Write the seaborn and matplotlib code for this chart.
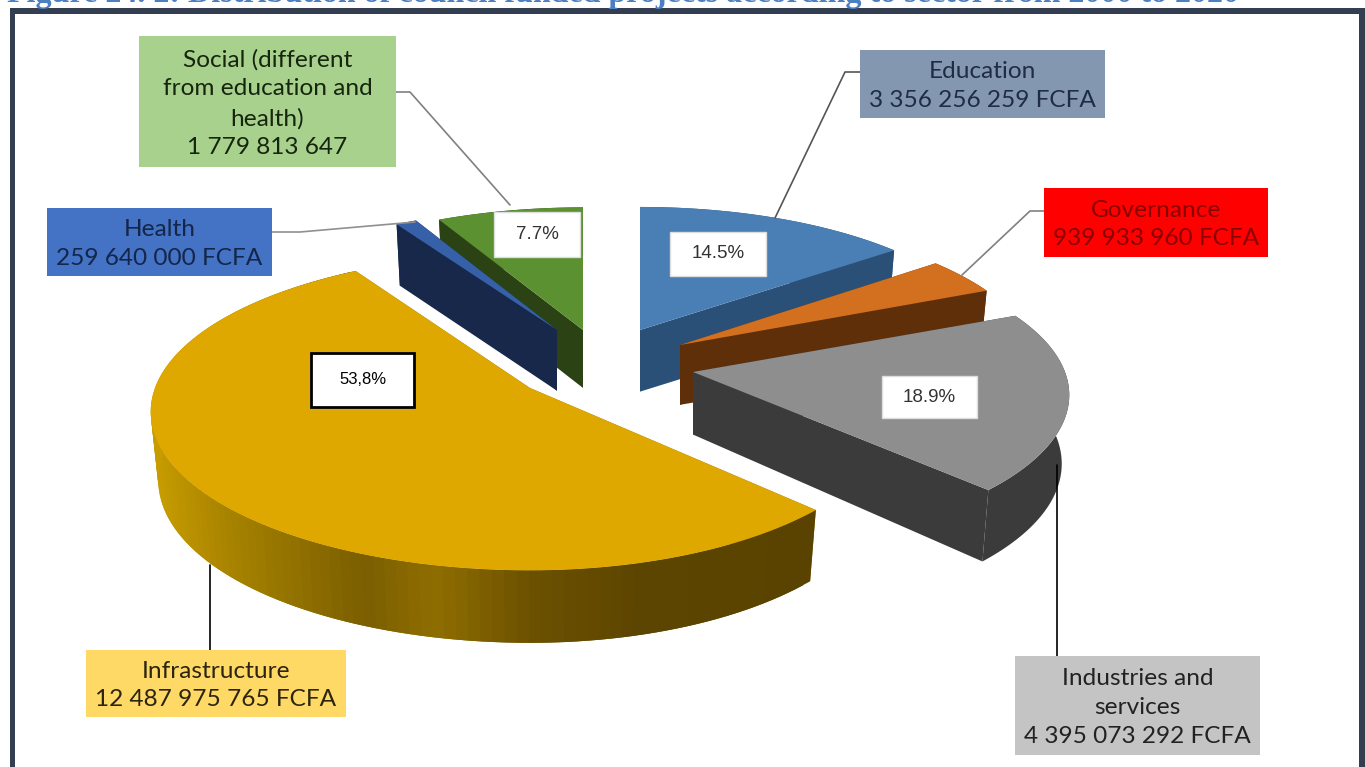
import numpy as np
import matplotlib
matplotlib.use("Agg")
import matplotlib.pyplot as plt
from matplotlib.colors import to_rgb
from matplotlib.patches import Rectangle
import seaborn as sns

# ---- data ----
sectors = ["Education", "Governance", "Industries and services", "Infrastructure", "Health", "Social"]
amounts = [3356256259, 939933960, 4395073292, 12487975765, 259640000, 1779813647]
box_labels = ["Education\n3 356 256 259 FCFA", "Governance\n939 933 960 FCFA",
              "Industries and\nservices\n4 395 073 292 FCFA", "Infrastructure\n12 487 975 765 FCFA",
              "Health\n259 640 000 FCFA", "Social (different\nfrom education and\nhealth)\n1 779 813 647"]
pct_labels = ["14.5%", None, "18.9%", "53,8%", None, "7.7%"]
title = "Figure 24. 2: Distribution of council funded projects according to sector from 2000 to 2020"

# ---- styles / layout ----
top_colors = ["#4a7fb5", "#d2701f", "#8e8e8e", "#dfa800", "#3660a8", "#5b9130"]
side_colors = ["#2a5078", "#5f2f0a", "#3b3b3b", "#8a6a00", "#17284a", "#2b4314"]
box_colors = ["#8497b0", "#ff0000", "#c4c4c4", "#ffd966", "#4472c4", "#a9d18e"]
txt_colors = ["#1f2d44", "#8a0000", "#222222", "#2b2410", "#14264a", "#16260e"]
centre = np.array([610.0, 350.0])
explode = [(30, -20), (70, -5), (83, 22), (-80, 38), (-53, -20), (-27, -20)]
radius_left = [352, 354, 372, 375, 345, 352]
radius_right = [352, 354, 372, 360, 345, 352]
radius_y = [141.5, 145, 150, 155, 140, 141]
persp = 0.15
depth = [67, 65, 68, 68, 66, 63]
rim_x = [155, 230, 370, 440, 540, 650, 815]
rim_c = ["#c79c00", "#a88300", "#7a5e00", "#8f6e00", "#6b5000", "#5c4500", "#5a4300"]
boxes = [(860, 50, 1105, 118), (1044, 188, 1268, 257), (1015, 656, 1260, 755),
         (86, 650, 346, 717), (47, 208, 272, 276), (139, 36, 396, 167)]
pct_boxes = [(670, 232, 766, 276), None, (882, 376, 977, 418), (311, 353, 414, 407), None, (494, 212, 580, 257)]
leaders = [[(860, 72), (845, 72), (775, 218)], [(1044, 211), (1030, 211), (962, 275)],
           [(1057, 465), (1057, 656)], [(210, 565), (210, 650)],
           [(272, 232), (300, 232), (415, 222)], [(396, 92), (410, 92), (510, 205)]]
leader_col = ["#555555", "#808080", "#000000", "#000000", "#909090", "#808080"]

sns.set_theme(style="white")
plt.rcParams["font.family"] = ["Lato", "DejaVu Sans"]
fig = plt.figure(figsize=(13.65, 7.67), dpi=100)
ax = fig.add_axes([0, 0, 1, 1])
ax.set_xlim(0, 1365)
ax.set_ylim(767, 0)
ax.axis("off")

shares = np.array(amounts, float) / sum(amounts)
edges = np.concatenate([[0], np.cumsum(shares)]) * 2 * np.pi
rim_rgb = np.array([to_rgb(c) for c in rim_c])
i_z = {5: 2, 4: 3, 0: 4, 1: 5, 2: 6, 3: 7}


def project(theta, i, bottom=False):
    X, Y = np.sin(theta), np.cos(theta)
    s = 1 / (1 + persp * Y)
    shrink = 0.98 if bottom else 1.0
    rx = np.where(X < 0, radius_left[i], radius_right[i])
    px = rx * X * s * shrink
    py = -radius_y[i] * Y * s * shrink
    if bottom:
        py = py + depth[i] * (1.0 + 0.12 * (-Y))
    return px, py


def draw_slice(i):
    tip = centre + np.array(explode[i])
    th = np.linspace(edges[i], edges[i + 1], 240)
    tx, ty = project(th, i)
    bx, by = project(th, i, bottom=True)
    d_tip = depth[i] * 0.92
    z = i_z[i]
    for k in (0, -1):
        ax.fill([tip[0], tip[0] + tx[k], tip[0] + bx[k], tip[0]],
                [tip[1], tip[1] + ty[k], tip[1] + by[k], tip[1] + d_tip],
                color=side_colors[i], lw=0, zorder=z)
    if sectors[i] == "Infrastructure":
        for j in range(0, len(th) - 4, 2):
            cx = tip[0] + tx[j]
            c = [np.interp(cx, rim_x, rim_rgb[:, n]) for n in range(3)]
            ax.fill(tip[0] + np.array([tx[j], tx[j + 4], bx[j + 4], bx[j]]),
                    tip[1] + np.array([ty[j], ty[j + 4], by[j + 4], by[j]]),
                    color=c, lw=0, zorder=z)
        ax.fill(tip[0] + np.r_[tx[-4:], bx[-4:][::-1]], tip[1] + np.r_[ty[-4:], by[-4:][::-1]],
                color=rim_c[-1], lw=0, zorder=z)
    else:
        ax.fill(tip[0] + np.r_[tx, bx[::-1]], tip[1] + np.r_[ty, by[::-1]],
                color=side_colors[i], lw=0, zorder=z)
    ax.fill(np.r_[tip[0], tip[0] + tx], np.r_[tip[1], tip[1] + ty],
            color=top_colors[i], lw=0, zorder=z + 0.5)


for i in range(len(amounts)):
    draw_slice(i)

for pts, col in zip(leaders, leader_col):
    xs, ys = zip(*pts)
    ax.plot(xs, ys, color=col, lw=1.2, zorder=9)

for i, (x0, y0, x1, y1) in enumerate(boxes):
    ax.add_patch(Rectangle((x0, y0), x1 - x0, y1 - y0, color=box_colors[i], lw=0, zorder=10))
    ax.text((x0 + x1) / 2, (y0 + y1) / 2 + 2, box_labels[i], ha="center", va="center",
            fontsize=17.6, color=txt_colors[i], linespacing=1.47, zorder=11)

for i, b in enumerate(pct_boxes):
    if b is None:
        continue
    x0, y0, x1, y1 = b
    black = sectors[i] == "Infrastructure"
    ax.add_patch(Rectangle((x0, y0), x1 - x0, y1 - y0, facecolor="white",
                           edgecolor="black" if black else "#dddddd",
                           lw=2 if black else 1, zorder=10))
    ax.text((x0 + x1) / 2, (y0 + y1) / 2, pct_labels[i], ha="center", va="center",
            fontsize=12 if black else 13.5, family="Liberation Sans",
            color="black" if black else "#333333", zorder=11)

# page frame and clipped caption
frame = "#333f50"
ax.add_patch(Rectangle((10, 8), 1355, 6, color=frame, lw=0, zorder=12))
ax.add_patch(Rectangle((10, 8), 5, 759, color=frame, lw=0, zorder=12))
ax.add_patch(Rectangle((1359, 8), 6, 759, color=frame, lw=0, zorder=12))
ax.text(7, 2, title, ha="left", va="baseline", fontsize=23, fontweight="bold",
        family="Liberation Serif", color="#4a7fc1", zorder=13, clip_on=True)

fig.savefig("out.png", dpi=100)
